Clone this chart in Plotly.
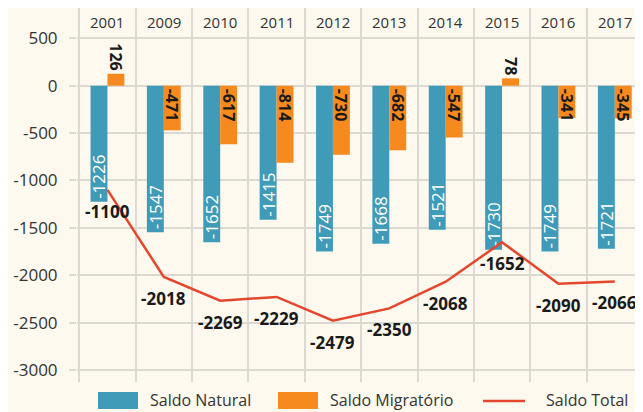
import plotly.graph_objects as go

years = ["2001", "2009", "2010", "2011", "2012", "2013", "2014", "2015", "2016", "2017"]
saldo_natural = [-1226, -1547, -1652, -1415, -1749, -1668, -1521, -1730, -1749, -1721]
saldo_migratorio = [126, -471, -617, -814, -730, -682, -547, 78, -341, -345]
saldo_total = [-1100, -2018, -2269, -2229, -2479, -2350, -2068, -1652, -2090, -2066]
y_ticks = [500, 0, -500, -1000, -1500, -2000, -2500, -3000]
series_names = ["Saldo Natural", "Saldo Migratório", "Saldo Total"]

BLUE = "#3f9bb7"
ORANGE = "#f68a1e"
RED = "#e4472d"
BG = "#fdf9ee"
GRID = "#dcd9d2"
TXT = "#333333"
DARK = "#1a1a1a"
FONT = "Open Sans"

# figure geometry (page has 8px body margin)
W, H = 635, 404
ML, MR, MT, MB = 69, 0, 0, 30
PW, PH = W - ML - MR, H - MT - MB


def px(xf):
    return (xf - ML) / PW


def py(yf):
    return (MT + PH - yf) / PH


fig = go.Figure()

fig.add_trace(go.Bar(
    x=years, y=saldo_natural, name=series_names[0],
    marker=dict(color=BLUE, line=dict(width=0)),
    text=[str(v) for v in saldo_natural],
    textposition="inside", insidetextanchor="end", textangle=-90,
    insidetextfont=dict(color="white", size=17, family=FONT),
    constraintext="none",
))

fig.add_trace(go.Bar(
    x=years, y=saldo_migratorio, name=series_names[1],
    marker=dict(color=ORANGE, line=dict(width=0)),
    text=[str(v) for v in saldo_migratorio],
    textposition=["outside" if v > 0 else "inside" for v in saldo_migratorio],
    insidetextanchor="start", textangle=90,
    textfont=dict(color=DARK, size=16, family=FONT, weight="bold"),
    constraintext="none", cliponaxis=False,
))

fig.add_trace(go.Scatter(
    x=years, y=saldo_total, name=series_names[2], mode="lines",
    line=dict(color=RED, width=2.5),
))

# Saldo Total value labels
for i, v in enumerate(saldo_total):
    fig.add_annotation(
        x=i, y=v, xref="x", yref="y", text="<b>%d</b>" % v, showarrow=False,
        yanchor="top", yshift=-8,
        font=dict(size=17, color=DARK, family=FONT),
    )

# year labels along the top, inside the plot
for i, yr in enumerate(years):
    fig.add_annotation(
        x=i, y=py(14), xref="x", yref="paper", text=yr, showarrow=False,
        yanchor="middle", font=dict(size=15, color=TXT, family=FONT),
    )

# legend (large swatches as in the reference)
legend_items = [
    ("rect", BLUE, 90, 130, 140),
    ("rect", ORANGE, 270, 310, 320),
    ("line", RED, 475, 517, 536),
]
for (kind, col, x0, x1, xt), name in zip(legend_items, series_names):
    if kind == "rect":
        fig.add_shape(type="rect", xref="paper", yref="paper",
                      x0=px(x0), x1=px(x1), y0=py(384), y1=py(401),
                      fillcolor=col, line=dict(width=0))
    else:
        fig.add_shape(type="line", xref="paper", yref="paper",
                      x0=px(x0), x1=px(x1), y0=py(393), y1=py(393),
                      line=dict(color=col, width=2.5))
    fig.add_annotation(x=px(xt), y=py(392), xref="paper", yref="paper",
                       text=name, showarrow=False, xanchor="left", yanchor="middle",
                       font=dict(size=16, color=TXT, family=FONT))

fig.update_layout(
    width=W, height=H,
    margin=dict(l=ML, r=MR, t=MT, b=MB, pad=0),
    paper_bgcolor=BG, plot_bgcolor=BG,
    font=dict(family=FONT, color=TXT, size=15),
    barmode="group", bargap=0.4, bargroupgap=0.0,
    showlegend=False,
    xaxis=dict(
        type="category", tickson="boundaries", showgrid=True, gridcolor=GRID,
        gridwidth=1.5, ticks="", showline=False, zeroline=False,
        showticklabels=False, range=[-0.54, 9.5],
    ),
    yaxis=dict(
        range=[-3127, 820], tickvals=y_ticks, ticktext=[str(t) for t in y_ticks],
        showgrid=True, gridcolor=GRID, gridwidth=1.5, zeroline=False,
        ticks="outside", ticklen=7, tickcolor=GRID, tickwidth=1.5,
        ticklabelstandoff=8, tickfont=dict(size=17, color=TXT),
        showline=False,
    ),
)

fig.write_html("out.html")
